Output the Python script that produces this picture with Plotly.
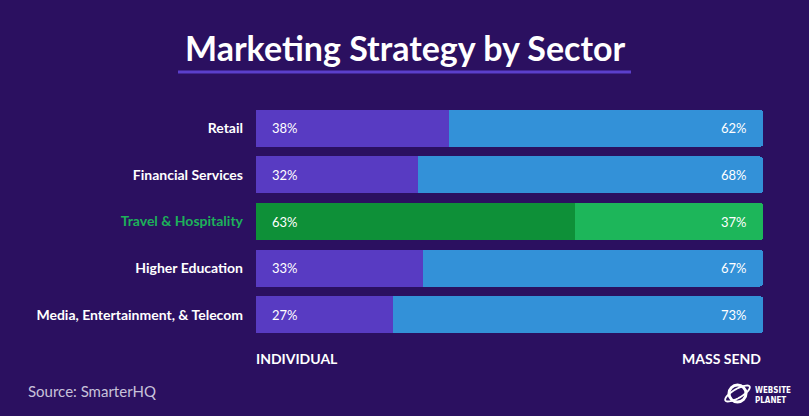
import math
import plotly.graph_objects as go

categories = ["Retail", "Financial Services", "Travel & Hospitality", "Higher Education",
              "Media, Entertainment, & Telecom"]
individual = [38, 32, 63, 33, 27]
mass_send = [62, 68, 37, 67, 73]
highlight = "Travel & Hospitality"

BG = "#2B1060"
PURPLE = "#583BC2"
BLUE = "#3391D8"
GREEN_D = "#0E9038"
GREEN_L = "#1DB65A"
GREEN_TXT = "#1DB05A"

c_ind = [GREEN_D if c == highlight else PURPLE for c in categories]
c_mass = [GREEN_L if c == highlight else BLUE for c in categories]

fig = go.Figure()
fig.add_trace(go.Bar(y=categories, x=individual, orientation="h", marker=dict(color=c_ind, line=dict(width=0)),
                     name="Individual", hoverinfo="x+y"))
fig.add_trace(go.Bar(y=categories, x=mass_send, orientation="h", marker=dict(color=c_mass, line=dict(width=0)),
                     name="Mass Send", hoverinfo="x+y"))

W, H = 809, 416
L, R, T, B = 256, 46, 105, 78
pw, ph = W - L - R, H - T - B
def px2paper(x, y):
    return (x - L) / pw, (H - B - y) / ph

annotations = []
for c, a, b in zip(categories, individual, mass_send):
    annotations.append(dict(x=0, y=c, xref="x", yref="y", text=f"{a}%", showarrow=False,
                            xanchor="left", xshift=14, font=dict(family="Lato", size=13, color="white")))
    annotations.append(dict(x=a + b, y=c, xref="x", yref="y", text=f"{b}%", showarrow=False,
                            xanchor="right", xshift=-14, font=dict(family="Lato", size=13, color="white")))

annotations.append(dict(x=0, y=0, xref="x", yref="paper", text="<b>INDIVIDUAL</b>", showarrow=False,
                        xanchor="left", yanchor="middle", yshift=-20, xshift=-2,
                        font=dict(family="Lato", size=14, color="white")))
annotations.append(dict(x=100, y=0, xref="x", yref="paper", text="<b>MASS SEND</b>", showarrow=False,
                        xanchor="right", yanchor="middle", yshift=-20,
                        font=dict(family="Lato", size=14, color="white")))

def pix_ann(text, x, y, xanchor, size, color, family="Lato"):
    px, py = px2paper(x, y)
    return dict(x=px, y=py, xref="paper", yref="paper", text=text, showarrow=False,
                xanchor=xanchor, yanchor="middle", font=dict(family=family, size=size, color=color))

annotations += [
    pix_ann("<b>Marketing Strategy by Sector</b>", 405, 47, "center", 34, "white"),
    pix_ann("Source: SmarterHQ", 26, 391, "left", 15, "#C8C2DA"),
    pix_ann("<b>WEBSITE</b>", 753, 390, "left", 8, "white", "DejaVu Sans Condensed"),
    pix_ann("<b>PLANET</b>", 753, 400, "left", 8, "white", "DejaVu Sans Condensed"),
]

x0, y0 = px2paper(178, 72)
x1, _ = px2paper(631, 72)
lx0, ly0 = px2paper(729, 402)
lx1, ly1 = px2paper(746, 385)

# logo orbit ring (tilted ellipse) as a path
cx, cy, rx, ry, ang = 737.5, 393.5, 14, 4.5, math.radians(-30)
pts = []
for i in range(41):
    t = 2 * math.pi * i / 40
    ex, ey = rx * math.cos(t), ry * math.sin(t)
    px = cx + ex * math.cos(ang) - ey * math.sin(ang)
    py = cy + ex * math.sin(ang) + ey * math.cos(ang)
    pts.append(px2paper(px, py))
path = "M " + " L ".join(f"{p[0]:.5f},{p[1]:.5f}" for p in pts) + " Z"

shapes = [
    dict(type="line", xref="paper", yref="paper", x0=x0, x1=x1, y0=y0, y1=y0,
         line=dict(color="#5B3FCB", width=3)),
    dict(type="circle", xref="paper", yref="paper", x0=lx0, x1=lx1, y0=ly0, y1=ly1,
         line=dict(color="white", width=3)),
    dict(type="path", xref="paper", yref="paper", path=path, line=dict(color="white", width=1.8)),
]

fig.update_layout(
    barmode="stack",
    bargap=0.21,
    barcornerradius=3,
    width=W, height=H,
    margin=dict(l=L, r=R, t=T, b=B, pad=0),
    paper_bgcolor=BG, plot_bgcolor=BG,
    showlegend=False,
    annotations=annotations,
    shapes=shapes,
    xaxis=dict(range=[0, 100], visible=False, fixedrange=True),
    yaxis=dict(
        autorange="reversed",
        tickmode="array",
        tickvals=categories,
        ticktext=[f'<span style="color:{GREEN_TXT}">{c}</span>' if c == highlight else c
                  for c in categories],
        tickfont=dict(family="Lato", size=14, color="white", weight="bold"),
        showgrid=False, zeroline=False, showline=False, ticks="",
        ticklabelstandoff=12,
        fixedrange=True,
    ),
)

fig.write_html("out.html", config={"displayModeBar": False},
               post_script="document.body.style.margin='0';document.body.style.background='" + BG + "';")
